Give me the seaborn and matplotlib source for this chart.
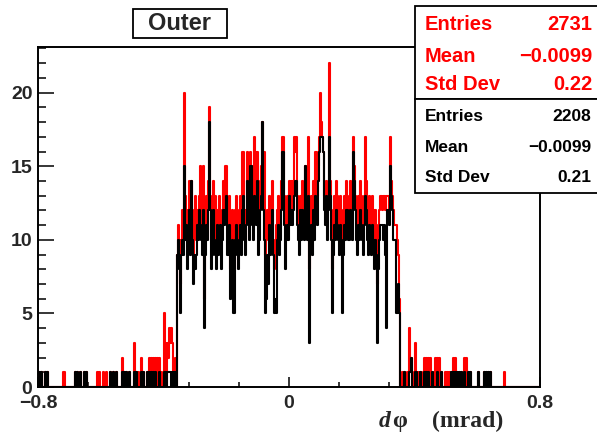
import numpy as np
import pandas as pd
import matplotlib.pyplot as plt
import matplotlib.patches as patches
from matplotlib.ticker import MultipleLocator, FixedLocator
import seaborn as sns

# binning of the d-phi histogram (mrad)
n_bins = 500
x_lo, x_hi = -0.8, 0.8

# core region, bins 138..360
core_first = 138
red_core = [
    9, 11, 10, 7, 10, 12, 11, 20, 13, 12,
    10, 12, 14, 11, 14, 12, 9, 11, 13, 10,
    12, 11, 13, 15, 12, 11, 15, 6, 11, 13,
    12, 14, 19, 13, 10, 12, 14, 11, 13, 10,
    12, 11, 13, 12, 10, 11, 14, 12, 15, 15,
    12, 10, 13, 8, 11, 12, 7, 8, 12, 13,
    11, 10, 12, 13, 11, 16, 16, 12, 10, 12,
    16, 15, 12, 16, 15, 13, 12, 17, 16, 13,
    16, 11, 12, 14, 15, 18, 14, 16, 9, 11,
    12, 10, 13, 11, 12, 14, 10, 8, 9, 11,
    12, 13, 11, 12, 14, 17, 17, 13, 12, 11,
    13, 12, 14, 13, 14, 12, 14, 17, 16, 17,
    13, 12, 11, 13, 12, 14, 13, 11, 15, 12,
    13, 17, 8, 12, 13, 11, 14, 12, 16, 16,
    13, 15, 17, 20, 18, 17, 16, 13, 12, 14,
    12, 13, 22, 14, 12, 8, 11, 13, 12, 14,
    13, 12, 11, 13, 12, 9, 11, 13, 12, 14,
    13, 11, 12, 14, 13, 12, 17, 15, 13, 12,
    11, 13, 12, 14, 13, 12, 11, 13, 17, 14,
    12, 11, 13, 12, 11, 13, 12, 10, 12, 11,
    7, 10, 12, 13, 13, 12, 13, 13, 12, 13,
    13, 13, 12, 17, 14, 13, 12, 11, 11, 11,
    10, 9, 6,
]
black_core = [
    9, 10, 8, 5, 9, 10, 9, 15, 10, 11,
    8, 10, 12, 9, 14, 10, 7, 9, 8, 9,
    11, 10, 12, 11, 10, 9, 12, 4, 9, 11,
    10, 12, 18, 12, 8, 9, 12, 10, 9, 8,
    11, 9, 10, 11, 8, 10, 12, 11, 12, 13,
    9, 9, 11, 6, 9, 10, 5, 5, 10, 11,
    9, 8, 10, 11, 9, 12, 13, 10, 9, 11,
    14, 13, 10, 15, 15, 11, 10, 13, 12, 11,
    14, 9, 10, 12, 13, 18, 12, 10, 5, 6,
    9, 7, 11, 9, 10, 12, 9, 5, 6, 5,
    10, 11, 9, 10, 12, 16, 16, 11, 8, 10,
    11, 10, 13, 11, 12, 11, 12, 13, 14, 14,
    11, 10, 9, 12, 10, 12, 11, 10, 15, 11,
    10, 13, 3, 10, 11, 9, 12, 10, 13, 12,
    11, 14, 16, 17, 17, 17, 16, 12, 11, 13,
    10, 12, 17, 13, 10, 5, 9, 11, 10, 12,
    11, 10, 9, 11, 10, 5, 9, 11, 10, 12,
    12, 10, 10, 12, 11, 10, 16, 14, 12, 10,
    9, 11, 10, 12, 11, 10, 9, 11, 13, 12,
    10, 9, 11, 10, 9, 11, 10, 8, 10, 9,
    3, 8, 10, 11, 11, 11, 10, 11, 9, 4,
    12, 12, 11, 15, 13, 12, 10, 10, 10, 5,
    5, 7, 5,
]

# sparse tails on both sides of the core
tail_bins = [
    1, 3, 7, 9, 25, 26, 37, 39, 42, 46, 48, 59, 61, 65, 68, 72, 75, 78,
    84, 86, 88, 91, 96, 98, 100, 103, 105, 109, 111, 113, 115, 117, 119,
    121, 123, 125, 126, 128, 129, 130, 131, 132, 133, 135, 136,
    363, 365, 368, 370, 371, 372, 373, 375, 376, 378, 380, 381, 384, 386,
    388, 390, 392, 395, 397, 399, 401, 405, 407, 409, 411, 413, 415, 417,
    419, 421, 424, 426, 428, 430, 438, 444, 446, 448, 450, 464,
]
tail_red = [
    1, 1, 1, 1, 1, 1, 1, 1, 1, 1, 1, 1, 1, 1, 1, 1, 1, 1,
    2, 1, 1, 1, 3, 1, 1, 2, 1, 1, 2, 2, 2, 2, 2,
    2, 1, 5, 3, 3, 2, 4, 3, 4, 3, 1, 2,
    1, 1, 1, 4, 1, 2, 1, 3, 1, 1, 1, 1, 2, 2,
    2, 2, 1, 2, 2, 2, 1, 1, 1, 1, 1, 2, 2, 1,
    1, 1, 2, 2, 1, 1, 1, 1, 1, 1, 1, 1,
]
tail_black = [
    1, 1, 1, 1, 0, 0, 1, 1, 1, 1, 1, 0, 0, 0, 0, 1, 1, 1,
    1, 1, 1, 1, 1, 1, 0, 1, 1, 1, 1, 1, 1, 1, 0,
    1, 0, 1, 1, 1, 1, 1, 1, 0, 1, 1, 1,
    0, 1, 0, 1, 1, 2, 0, 1, 1, 0, 1, 0, 1, 1,
    1, 0, 1, 0, 1, 0, 1, 0, 0, 0, 1, 1, 1, 1,
    1, 1, 1, 0, 1, 1, 1, 1, 1, 1, 1, 0,
]

edges = np.linspace(x_lo, x_hi, n_bins + 1)
centers = 0.5 * (edges[:-1] + edges[1:])

red = np.zeros(n_bins)
red[core_first:core_first + len(red_core)] = red_core
red[tail_bins] = tail_red
black = np.zeros(n_bins)
black[core_first:core_first + len(black_core)] = black_core
black[tail_bins] = tail_black

df_red = pd.DataFrame({'dphi': centers, 'n': red})
df_black = pd.DataFrame({'dphi': centers, 'n': black})

sns.set_style("white")
plt.rcParams['font.family'] = ['Liberation Sans', 'DejaVu Sans']

W, H = 597, 432
fig = plt.figure(figsize=(W / 100, H / 100), dpi=100)
ax = fig.add_axes([38 / W, 1 - 387 / H, (540 - 38) / W, (387 - 47) / H])

sns.histplot(data=df_red, x='dphi', weights='n', bins=n_bins, binrange=(x_lo, x_hi),
             element="step", fill=False, color="red", linewidth=1.5, ax=ax)
sns.histplot(data=df_black, x='dphi', weights='n', bins=n_bins, binrange=(x_lo, x_hi),
             element="step", fill=False, color="black", linewidth=1.5, ax=ax)

ax.set_xlim(x_lo, x_hi)
ax.set_ylim(0, 23.1)
ax.set_xlabel('')
ax.set_ylabel('')
for s in ax.spines.values():
    s.set_linewidth(1.4)
    s.set_color('black')
    s.set_zorder(5)

# ROOT style ticks, inside the frame
ax.xaxis.set_major_locator(FixedLocator([-0.8, 0, 0.8]))
ax.xaxis.set_minor_locator(FixedLocator([-0.64, -0.48, -0.32, -0.16, 0.16, 0.32, 0.48, 0.64]))
ax.yaxis.set_major_locator(MultipleLocator(5))
ax.yaxis.set_minor_locator(MultipleLocator(1))
ax.tick_params(axis='x', which='major', direction='in', length=7, width=1.3, pad=6,
               labelsize=14, bottom=True, top=False)
ax.tick_params(axis='x', which='minor', direction='in', length=3.6, width=1.3,
               bottom=True, top=False)
ax.tick_params(axis='y', which='major', direction='in', length=11.5, width=1.3, pad=4,
               labelsize=14, left=True, right=False)
ax.tick_params(axis='y', which='minor', direction='in', length=5.8, width=1.3,
               left=True, right=False)
ax.set_xticklabels(['\u22120.8', '0', '0.8'])
for lab in ax.get_xticklabels() + ax.get_yticklabels():
    lab.set_fontweight('bold')

# axis title
fig.text(379 / W, 1 - 427 / H, 'd', family='Liberation Serif', style='italic',
         weight='bold', fontsize=17, va='baseline')
fig.text(392 / W, 1 - 427 / H, '\u03c6', family='Liberation Serif',
         weight='bold', fontsize=17, va='baseline')
fig.text(432 / W, 1 - 427 / H, '(mrad)', family='Liberation Serif',
         weight='bold', fontsize=17, va='baseline')

# title box
fig.add_artist(patches.Rectangle((133 / W, 1 - 38 / H), 94 / W, 29 / H,
                                 transform=fig.transFigure, facecolor='white',
                                 edgecolor='black', linewidth=1.3))
fig.text(180 / W, 1 - 24 / H, 'Outer', ha='center', va='center',
         fontsize=17, weight='bold', zorder=3)

# stats boxes
fig.add_artist(patches.Rectangle((415 / W, 1 - 99 / H), 190 / W, 93 / H,
                                 transform=fig.transFigure, facecolor='white',
                                 edgecolor='black', linewidth=1.3, zorder=2))
fig.add_artist(patches.Rectangle((415 / W, 1 - 193 / H), 190 / W, 94 / H,
                                 transform=fig.transFigure, facecolor='white',
                                 edgecolor='black', linewidth=1.3, zorder=2))
red_stats = [('Entries', '2731'), ('Mean', '\u22120.0099'), ('Std Dev', '0.22')]
black_stats = [('Entries', '2208'), ('Mean', '\u22120.0099'), ('Std Dev', '0.21')]
for (name, val), yp in zip(red_stats, [24, 56, 85]):
    fig.text(425 / W, 1 - yp / H, name, color='red', fontsize=14.5, weight='bold',
             va='center', zorder=3)
    fig.text(592 / W, 1 - yp / H, val, color='red', fontsize=14.5, weight='bold',
             va='center', ha='right', zorder=3)
for (name, val), yp in zip(black_stats, [117, 147, 178]):
    fig.text(425 / W, 1 - yp / H, name, color='black', fontsize=12.5, weight='bold',
             va='center', zorder=3)
    fig.text(591 / W, 1 - yp / H, val, color='black', fontsize=12.5, weight='bold',
             va='center', ha='right', zorder=3)

fig.savefig('out.png', dpi=100)
